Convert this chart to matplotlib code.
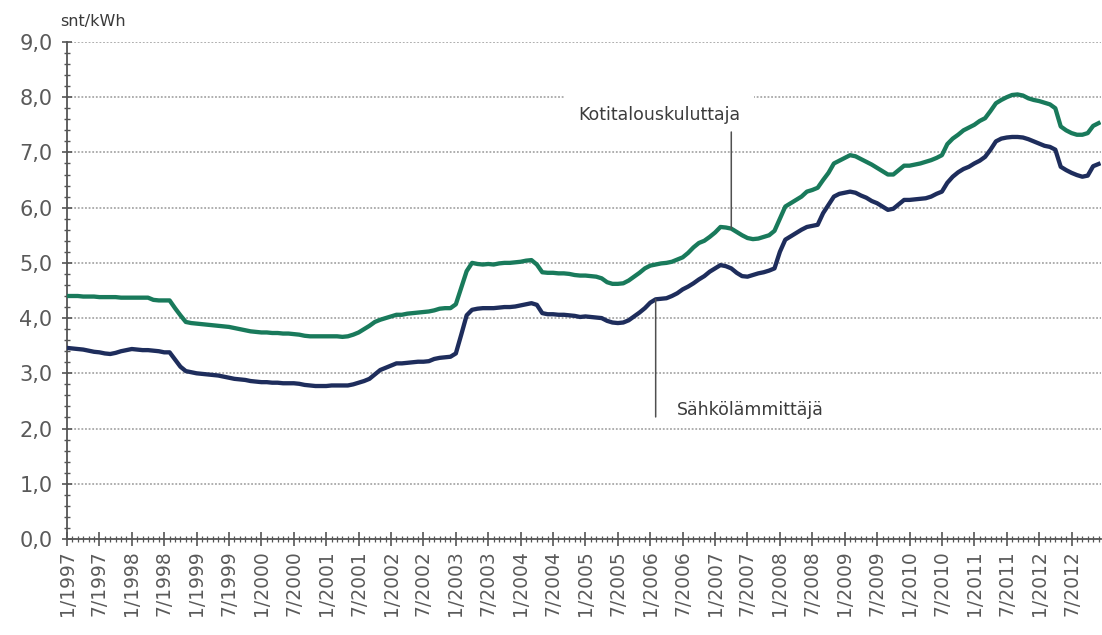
import numpy as np
import matplotlib
matplotlib.use("Agg")
import matplotlib.pyplot as plt
from matplotlib.ticker import MultipleLocator, FixedLocator

# Monthly electricity prices, snt/kWh, January 1997 - December 2012
kotitalous = [
    4.40, 4.40, 4.40, 4.39, 4.39, 4.39, 4.38, 4.38, 4.38, 4.38, 4.37, 4.37,  # 1997
    4.37, 4.37, 4.37, 4.37, 4.33, 4.32, 4.32, 4.32, 4.18, 4.05, 3.93, 3.91,  # 1998
    3.90, 3.89, 3.88, 3.87, 3.86, 3.85, 3.84, 3.82, 3.80, 3.78, 3.76, 3.75,  # 1999
    3.74, 3.74, 3.73, 3.73, 3.72, 3.72, 3.71, 3.70, 3.68, 3.67, 3.67, 3.67,  # 2000
    3.67, 3.67, 3.67, 3.66, 3.67, 3.70, 3.74, 3.80, 3.86, 3.93, 3.97, 4.00,  # 2001
    4.03, 4.06, 4.06, 4.08, 4.09, 4.10, 4.11, 4.12, 4.14, 4.17, 4.18, 4.18,  # 2002
    4.25, 4.55, 4.85, 5.00, 4.98, 4.97, 4.98, 4.97, 4.99, 5.00, 5.00, 5.01,  # 2003
    5.02, 5.04, 5.05, 4.97, 4.83, 4.82, 4.82, 4.81, 4.81, 4.80, 4.78, 4.77,  # 2004
    4.77, 4.76, 4.75, 4.72, 4.65, 4.62, 4.62, 4.63, 4.68, 4.75, 4.82, 4.90,  # 2005
    4.95, 4.97, 4.99, 5.00, 5.02, 5.06, 5.10, 5.18, 5.28, 5.36, 5.40, 5.47,  # 2006
    5.55, 5.65, 5.64, 5.62, 5.56, 5.50, 5.45, 5.43, 5.44, 5.47, 5.50, 5.58,  # 2007
    5.80, 6.02, 6.08, 6.14, 6.20, 6.29, 6.32, 6.36, 6.50, 6.63, 6.80, 6.85,  # 2008
    6.90, 6.95, 6.93, 6.88, 6.83, 6.78, 6.72, 6.66, 6.60, 6.60, 6.68, 6.76,  # 2009
    6.76, 6.78, 6.80, 6.83, 6.86, 6.90, 6.95, 7.15, 7.25, 7.32, 7.40, 7.45,  # 2010
    7.50, 7.57, 7.62, 7.75, 7.89, 7.95, 8.00, 8.04, 8.05, 8.03, 7.98, 7.95,  # 2011
    7.93, 7.90, 7.87, 7.80, 7.47, 7.40, 7.35, 7.32, 7.32, 7.35, 7.48, 7.53,  # 2012
]

sahkolammitys = [
    3.46, 3.45, 3.44, 3.43, 3.41, 3.39, 3.38, 3.36, 3.35, 3.37, 3.40, 3.42,  # 1997
    3.44, 3.43, 3.42, 3.42, 3.41, 3.40, 3.38, 3.38, 3.25, 3.12, 3.04, 3.02,  # 1998
    3.00, 2.99, 2.98, 2.97, 2.96, 2.94, 2.92, 2.90, 2.89, 2.88, 2.86, 2.85,  # 1999
    2.84, 2.84, 2.83, 2.83, 2.82, 2.82, 2.82, 2.81, 2.79, 2.78, 2.77, 2.77,  # 2000
    2.77, 2.78, 2.78, 2.78, 2.78, 2.80, 2.83, 2.86, 2.90, 2.98, 3.06, 3.10,  # 2001
    3.14, 3.18, 3.18, 3.19, 3.20, 3.21, 3.21, 3.22, 3.26, 3.28, 3.29, 3.30,  # 2002
    3.36, 3.70, 4.05, 4.15, 4.17, 4.18, 4.18, 4.18, 4.19, 4.20, 4.20, 4.21,  # 2003
    4.23, 4.25, 4.27, 4.24, 4.09, 4.07, 4.07, 4.06, 4.06, 4.05, 4.04, 4.02,  # 2004
    4.03, 4.02, 4.01, 4.00, 3.95, 3.92, 3.91, 3.92, 3.96, 4.03, 4.10, 4.18,  # 2005
    4.28, 4.34, 4.35, 4.36, 4.40, 4.45, 4.52, 4.57, 4.63, 4.70, 4.76, 4.84,  # 2006
    4.90, 4.96, 4.94, 4.90, 4.82, 4.76, 4.75, 4.78, 4.81, 4.83, 4.86, 4.90,  # 2007
    5.20, 5.42, 5.48, 5.54, 5.60, 5.65, 5.67, 5.69, 5.90, 6.05, 6.20, 6.25,  # 2008
    6.27, 6.29, 6.27, 6.22, 6.18, 6.12, 6.08, 6.02, 5.96, 5.98, 6.06, 6.14,  # 2009
    6.14, 6.15, 6.16, 6.17, 6.20, 6.25, 6.29, 6.45, 6.56, 6.64, 6.70, 6.74,  # 2010
    6.80, 6.85, 6.92, 7.05, 7.20, 7.25, 7.27, 7.28, 7.28, 7.27, 7.24, 7.20,  # 2011
    7.16, 7.12, 7.10, 7.05, 6.74, 6.68, 6.63, 6.59, 6.56, 6.58, 6.75, 6.79,  # 2012
]

tick_labels = [
    "1/1997", "7/1997", "1/1998", "7/1998", "1/1999", "7/1999", "1/2000", "7/2000",
    "1/2001", "7/2001", "1/2002", "7/2002", "1/2003", "7/2003", "1/2004", "7/2004",
    "1/2005", "7/2005", "1/2006", "7/2006", "1/2007", "7/2007", "1/2008", "7/2008",
    "1/2009", "7/2009", "1/2010", "7/2010", "1/2011", "7/2011", "1/2012", "7/2012",
]
y_tick_labels = ["0,0", "1,0", "2,0", "3,0", "4,0", "5,0", "6,0", "7,0", "8,0", "9,0"]

series_names = ["Kotitalouskuluttaja", "Sähkölämmittäjä"]
unit_label = "snt/kWh"

GREEN = "#197a5b"
NAVY = "#1e2d5c"
AXIS = "#555555"
TEXT = "#5a5a5a"

plt.rcParams["font.family"] = ["DejaVu Sans"]

fig = plt.figure(figsize=(11.02, 6.35), dpi=100)
ax = fig.add_axes([0.0608, 0.1512, 0.9385, 0.7827])

months = np.arange(len(kotitalous))
ax.plot(months, kotitalous, color=GREEN, lw=3.1, solid_joinstyle="round", zorder=3)
ax.plot(months, sahkolammitys, color=NAVY, lw=3.1, solid_joinstyle="round", zorder=3)

ax.set_xlim(0, 191.5)
ax.set_ylim(0, 9)

# horizontal dotted grid
ax.yaxis.grid(True, color="#a8a8a8", lw=1.3, ls=(0, (1, 1)))
ax.set_axisbelow(True)

for side in ("top", "right"):
    ax.spines[side].set_visible(False)
for side in ("left", "bottom"):
    ax.spines[side].set_color(AXIS)
    ax.spines[side].set_linewidth(1.3)

ax.set_yticks(np.arange(len(y_tick_labels)))
ax.set_yticklabels(y_tick_labels)
ax.yaxis.set_minor_locator(MultipleLocator(0.2))

ax.set_xticks(np.arange(len(tick_labels)) * 6)
ax.set_xticklabels(tick_labels, rotation=90)
ax.xaxis.set_minor_locator(FixedLocator(months))

ax.tick_params(axis="y", which="major", direction="inout", length=7, width=1.2,
               color=AXIS, labelsize=15, labelcolor=TEXT, pad=7)
ax.tick_params(axis="y", which="minor", direction="inout", length=4, width=1.0, color=AXIS)
ax.tick_params(axis="x", which="major", direction="inout", length=10, width=1.2,
               color=AXIS, labelsize=13.5, labelcolor=TEXT, pad=3)
ax.tick_params(axis="x", which="minor", direction="inout", length=5, width=0.9, color=AXIS)

fig.text(0.0545, 0.966, unit_label, fontsize=11.5, color="#3a3a3a", ha="left", va="center")

# series labels with leader lines to the curves
k_idx = 123
ax.annotate("", xy=(k_idx, kotitalous[k_idx]), xytext=(k_idx, 7.37),
            arrowprops=dict(arrowstyle="-", color="#505050", lw=1.1,
                            shrinkA=0, shrinkB=0), zorder=5)
ax.text(109.6, 7.68, series_names[0], fontsize=12.5, color="#3c3c3c",
        ha="center", va="center", zorder=4,
        bbox=dict(boxstyle="square,pad=0.8", fc="white", ec="none"))

s_idx = 109
ax.annotate("", xy=(s_idx, sahkolammitys[s_idx]), xytext=(s_idx, 2.21),
            arrowprops=dict(arrowstyle="-", color="#505050", lw=1.1,
                            shrinkA=0, shrinkB=0), zorder=5)
ax.text(113.0, 2.33, series_names[1], fontsize=12.5, color="#3c3c3c",
        ha="left", va="center", zorder=4)

fig.savefig("out.png", dpi=100, facecolor="white")
